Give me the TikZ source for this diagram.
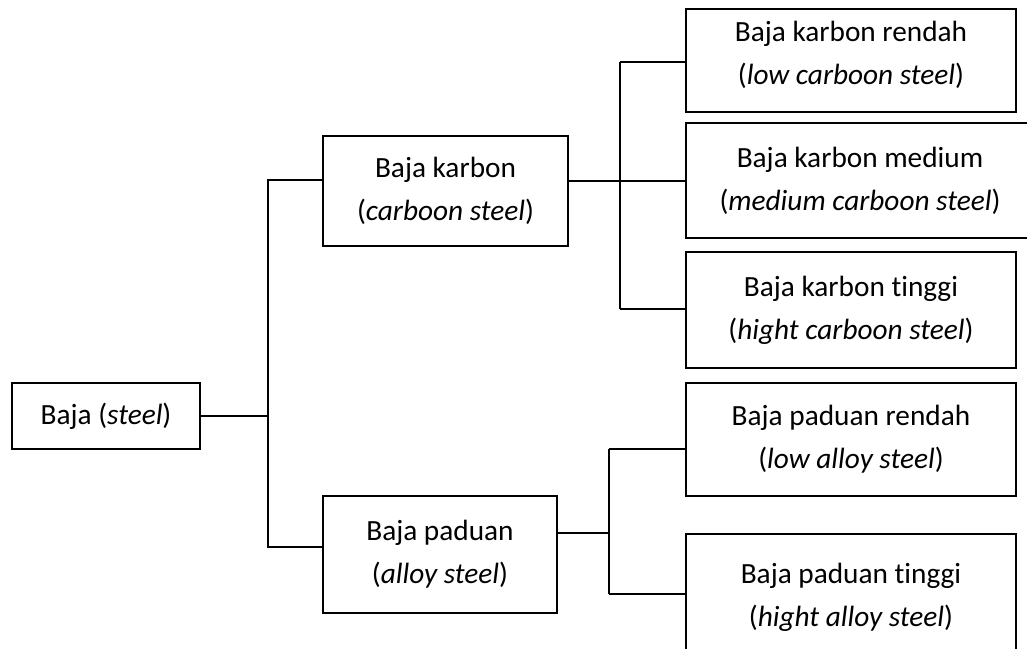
\documentclass[tikz,border=0pt]{standalone}
\usepackage{fontspec}
\setmainfont{Carlito}[Ligatures=NoCommon]
\begin{document}
\begin{tikzpicture}[x=1pt,y=-1pt,
  box/.style={draw=black, line width=2pt, inner sep=0pt, outer sep=0pt, align=center,
    font=\fontsize{29.3}{43}\selectfont},
  conn/.style={draw=black, line width=1.3pt}]
\useasboundingbox (0,0) rectangle (1027,648);
\clip (0,0) rectangle (1027,648);
\fill[white] (0,0) rectangle (1027,648);

\node[box, minimum width=188pt, minimum height=66pt] (steel) at (106,416) {Baja (\textit{steel})};
\node[box, minimum width=245pt, minimum height=110pt] (karbon) at (445.5,191) {Baja karbon\\(\textit{carboon steel})};
\node[box, minimum width=234pt, minimum height=117pt] (paduan) at (440,554.5) {Baja paduan\\(\textit{alloy steel})};

\node[box, minimum width=330pt, minimum height=103pt] (kr) at (851,60.5) {Baja karbon rendah\\(\textit{low carboon steel})\rule[-16pt]{0pt}{1pt}};
\node[box, minimum width=348pt, minimum height=115pt] (km) at (860,180.5) {Baja karbon medium\\(\textit{medium carboon steel})};
\node[box, minimum width=330pt, minimum height=116pt] (kt) at (851,310) {Baja karbon tinggi\\(\textit{hight carboon steel})};
\node[box, minimum width=330pt, minimum height=113pt] (pr) at (851,439.5) {Baja paduan rendah\\(\textit{low alloy steel})};
\node[box, minimum width=330pt, minimum height=126pt] (pt) at (851,597) {Baja paduan tinggi\\(\textit{hight alloy steel})};

% steel -> karbon / paduan
\coordinate (a1) at (268,180);
\coordinate (a2) at (268,547);
\draw[conn] (steel.east) -- (steel.east -| a1);
\draw[conn] (karbon.west |- a1) -- (a1) -- (a2) -- (paduan.west |- a2);

% karbon -> three
\coordinate (b0) at (620,181);
\coordinate (b1) at (620,62);
\coordinate (b3) at (620,309);
\draw[conn] (karbon.east |- b0) -- (b0);
\draw[conn] (b1) -- (b3);
\draw[conn] (b1) -- (kr.west |- b1);
\draw[conn] (b0) -- (km.west |- b0);
\draw[conn] (b3) -- (kt.west |- b3);

% paduan -> two
\coordinate (c0) at (609,533);
\coordinate (c1) at (609,449);
\coordinate (c2) at (609,594);
\draw[conn] (paduan.east |- c0) -- (c0);
\draw[conn] (c1) -- (c2);
\draw[conn] (c1) -- (pr.west |- c1);
\draw[conn] (c2) -- (pt.west |- c2);
\end{tikzpicture}
\end{document}
